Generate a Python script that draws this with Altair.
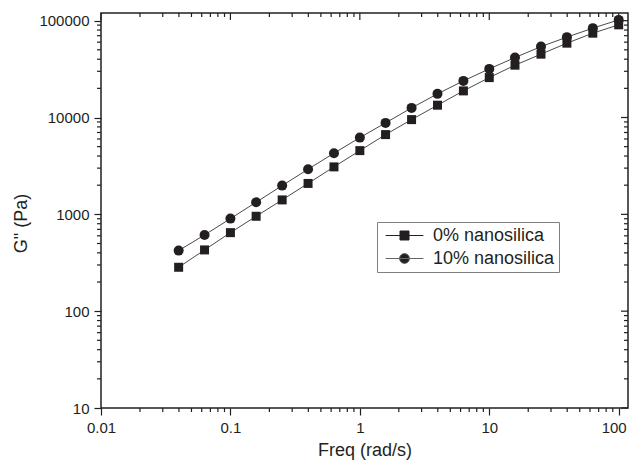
import altair as alt
import pandas as pd

# ---- data ----
freq = [0.0398, 0.0631, 0.1, 0.158, 0.251, 0.398, 0.631, 1.0, 1.58,
        2.51, 3.98, 6.31, 10.0, 15.8, 25.1, 39.8, 63.1, 100.0]
g_0 = [284, 429, 647, 955, 1409, 2085, 3090, 4550, 6659,
       9510, 13400, 18830, 25830, 34700, 45080, 58570, 74270, 90550]
g_10 = [422, 612, 903, 1334, 1980, 2924, 4277, 6197, 8795,
        12565, 17540, 23880, 31770, 41590, 53970, 67580, 83690, 101900]
series_names = ["0% nanosilica", "10% nanosilica"]

x_major = [0.01, 0.1, 1, 10, 100]
x_minor = [0.02, 0.03, 0.04, 0.05, 0.06, 0.07, 0.08, 0.09,
           0.2, 0.3, 0.4, 0.5, 0.6, 0.7, 0.8, 0.9,
           2, 3, 4, 5, 6, 7, 8, 9,
           20, 30, 40, 50, 60, 70, 80, 90]
y_major = [10, 100, 1000, 10000, 100000]
y_minor = [20, 30, 40, 50, 60, 70, 80, 90,
           200, 300, 400, 500, 600, 700, 800, 900,
           2000, 3000, 4000, 5000, 6000, 7000, 8000, 9000,
           20000, 30000, 40000, 50000, 60000, 70000, 80000, 90000]

rows = []
for f, a, b in zip(freq, g_0, g_10):
    rows.append({"freq": f, "g2": a, "series": series_names[0]})
    rows.append({"freq": f, "g2": b, "series": series_names[1]})
df = pd.DataFrame(rows)

INK = "#231f20"
LINE = "#4a4a4a"
FONT = "Liberation Sans"
W, H = 527, 395
MAJ, MIN = 7, 4

xt_major = pd.DataFrame({"freq": x_major, "len": MAJ})
xt_minor = pd.DataFrame({"freq": x_minor, "len": MIN})
yt_major = pd.DataFrame({"g2": y_major, "len": MAJ})
yt_minor = pd.DataFrame({"g2": y_minor, "len": MIN})

xscale = alt.Scale(type="log", domain=[0.01, 118], nice=False)
yscale = alt.Scale(type="log", domain=[10, 120000], nice=False)


def X(axis=None):
    if axis is None:
        return alt.X("freq:Q", scale=xscale)
    return alt.X("freq:Q", scale=xscale, axis=axis)


def Y(axis=None):
    if axis is None:
        return alt.Y("g2:Q", scale=yscale)
    return alt.Y("g2:Q", scale=yscale, axis=axis)


base = alt.Chart(df)

x_bottom = alt.Axis(orient="bottom", values=x_major, format="~g", tickSize=MAJ,
                    labelPadding=5, labelFlush=False, labelOverlap=False,
                    labelOffset={"condition": {"test": "datum.value >= 99", "value": -5}, "value": 0},
                    title="Freq (rad/s)", titleY=47, titleBaseline="alphabetic")
y_left = alt.Axis(orient="left", values=y_major, format="~g", tickSize=MAJ,
                  labelPadding=5, labelOverlap=False, title='G" (Pa)',
                  titleX=-80, titleY=210, titleAngle=270,
                  titleBaseline="middle", titleAlign="center")

lines = base.mark_line(color=LINE, strokeWidth=1).encode(
    x=X(x_bottom), y=Y(y_left), detail="series:N")

squares = base.transform_filter(alt.datum.series == series_names[0]).mark_point(
    shape="square", filled=True, size=81, color=INK, opacity=1
).encode(x=X(), y=Y())

circles = base.transform_filter(alt.datum.series == series_names[1]).mark_point(
    shape="circle", filled=True, size=100, color=INK, opacity=1
).encode(x=X(), y=Y())

# ---- extra ticks: minor outward (bottom/left), mirrored inward (top/right) ----
tk = dict(color=INK, thickness=1.2, opacity=1)
SZ = alt.Size("len:Q", scale=None, legend=None)

top_major = alt.Chart(xt_major).mark_tick(orient="vertical", **tk).encode(
    x=X(), y=alt.value(MAJ / 2), size=SZ)
top_minor = alt.Chart(xt_minor).mark_tick(orient="vertical", **tk).encode(
    x=X(), y=alt.value(MIN / 2), size=SZ)
bottom_minor = alt.Chart(xt_minor).mark_tick(orient="vertical", **tk).encode(
    x=X(), y=alt.value(H + MIN / 2), size=SZ)
right_major = alt.Chart(yt_major).mark_tick(orient="horizontal", **tk).encode(
    y=Y(), x=alt.value(W - MAJ / 2), size=SZ)
right_minor = alt.Chart(yt_minor).mark_tick(orient="horizontal", **tk).encode(
    y=Y(), x=alt.value(W - MIN / 2), size=SZ)
left_minor = alt.Chart(yt_minor).mark_tick(orient="horizontal", **tk).encode(
    y=Y(), x=alt.value(-MIN / 2), size=SZ)

# ---- legend (line + marker symbols) ----
sq_path = "M-2.1,0H2.1M-0.5,-0.5H0.5V0.5H-0.5Z"
ci_path = "M-2.1,0H2.1M-0.55,0A0.55,0.55,0,1,1,0.55,0A0.55,0.55,0,1,1,-0.55,0Z"

leg = alt.Legend(orient="none", legendX=276, legendY=209, title=None,
                 direction="vertical", symbolSize=324, symbolStrokeWidth=1,
                 labelFont=FONT, labelFontSize=18, labelColor=INK,
                 padding=4, rowPadding=4, symbolOffset=14, labelOffset=19,
                 strokeColor="#7f7f7f", fillColor="white")

legend_layer = base.transform_filter("false").mark_point(
    filled=False, fill=INK, strokeWidth=1, opacity=1
).encode(
    x=X(), y=Y(),
    stroke=alt.Stroke("series:N", scale=alt.Scale(domain=series_names, range=[INK, "#666666"]), legend=leg),
    shape=alt.Shape("series:N", scale=alt.Scale(domain=series_names, range=[sq_path, ci_path]), legend=leg),
)

chart = alt.layer(
    lines, top_major, top_minor, bottom_minor, right_major, right_minor, left_minor,
    squares, circles, legend_layer
).properties(
    width=W, height=H,
    autosize=alt.AutoSizeParams(type="none"),
    padding={"left": 93, "top": 5, "right": 1, "bottom": 52},
    background="white",
).configure_view(
    stroke=INK, strokeWidth=1.5
).configure_axis(
    grid=False, domain=False, tickColor=INK, tickWidth=1.2,
    labelFont=FONT, labelFontSize=15, labelColor=INK,
    titleFont=FONT, titleFontSize=18, titleFontWeight="normal", titleColor=INK,
)

chart.save("out.html", embed_options={"renderer": "svg", "actions": False})
